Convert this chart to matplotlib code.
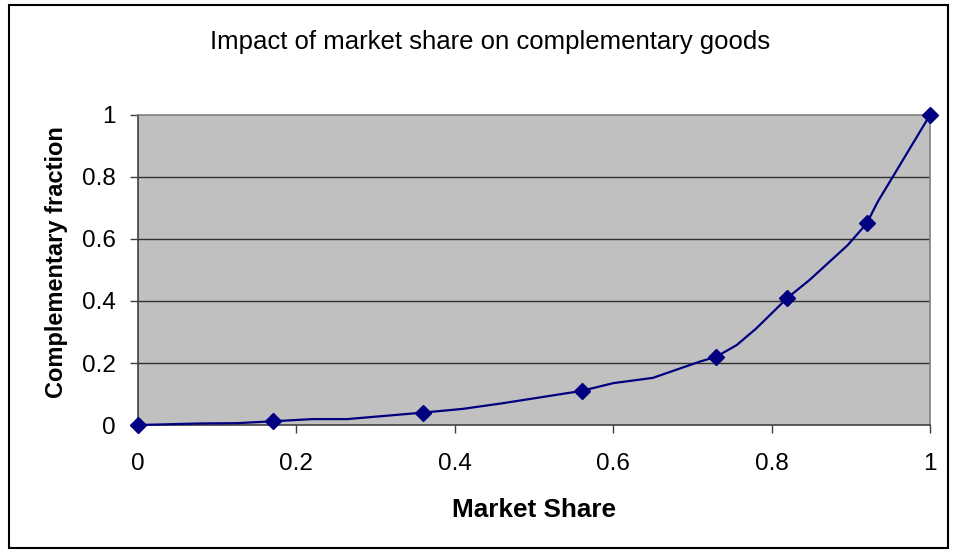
import matplotlib
matplotlib.use("Agg")
import matplotlib.pyplot as plt
from matplotlib.patches import Rectangle

plt.rcParams['font.family'] = ['Liberation Sans', 'DejaVu Sans']

# Curve vertices (market share, complementary fraction)
curve_x = [0.0, 0.08, 0.126, 0.17, 0.22, 0.264, 0.36, 0.41, 0.46, 0.56, 0.60,
           0.65, 0.71, 0.73, 0.756, 0.78, 0.82, 0.848, 0.896, 0.92, 0.934, 1.0]
curve_y = [0.0, 0.005, 0.006, 0.012, 0.019, 0.019, 0.04, 0.052, 0.07, 0.11, 0.135,
           0.152, 0.205, 0.22, 0.258, 0.31, 0.41, 0.468, 0.58, 0.65, 0.72, 1.0]

# Sampled points shown with markers
point_x = [0.0, 0.17, 0.36, 0.56, 0.73, 0.82, 0.92, 1.0]
point_y = [0.0, 0.012, 0.04, 0.11, 0.22, 0.41, 0.65, 1.0]

x_ticks = [0, 0.2, 0.4, 0.6, 0.8, 1]
y_ticks = [0, 0.2, 0.4, 0.6, 0.8, 1]
tick_labels = ['0', '0.2', '0.4', '0.6', '0.8', '1']

fig = plt.figure(figsize=(9.58, 5.52), dpi=100)
fig.patch.set_facecolor('white')
fig.patches.append(Rectangle((9 / 958, 4 / 552), 939 / 958, 543 / 552,
                             transform=fig.transFigure, fill=False,
                             edgecolor='black', linewidth=1.5))

ax = fig.add_axes([138 / 958, 1 - 425 / 552, 792 / 958, 310 / 552])
ax.set_facecolor('#C0C0C0')
ax.set_xlim(0, 1)
ax.set_ylim(0, 1)

for yv in y_ticks[1:-1]:
    ax.axhline(yv, color='#303030', linewidth=1.0, zorder=1)

ax.plot(curve_x, curve_y, color='#000080', linewidth=1.6, zorder=3, clip_on=False)
ax.plot(point_x, point_y, linestyle='none', marker='D', markersize=8,
        color='#000080', zorder=4, clip_on=False)

ax.set_xticks(x_ticks)
ax.set_xticklabels(tick_labels)
ax.set_yticks(y_ticks)
ax.set_yticklabels(tick_labels)
ax.tick_params(axis='both', direction='out', length=6, width=1,
               color='#404040', labelsize=17.5)
ax.tick_params(axis='x', pad=14)
ax.tick_params(axis='y', pad=10)

for side in ['left', 'bottom']:
    ax.spines[side].set_color('#404040')
    ax.spines[side].set_linewidth(1.2)
for side in ['right', 'top']:
    ax.spines[side].set_color('#808080')
    ax.spines[side].set_linewidth(1.2)

ax.set_xlabel('Market Share', fontsize=18.8, fontweight='bold', labelpad=17)
ax.set_ylabel('Complementary fraction', fontsize=17, fontweight='bold')
ax.yaxis.set_label_coords(-0.088, 0.526)

fig.text(490 / 958, 1 - 42 / 552, 'Impact of market share on complementary goods',
         ha='center', va='center', fontsize=18.5)

fig.savefig('out.png', dpi=100)
